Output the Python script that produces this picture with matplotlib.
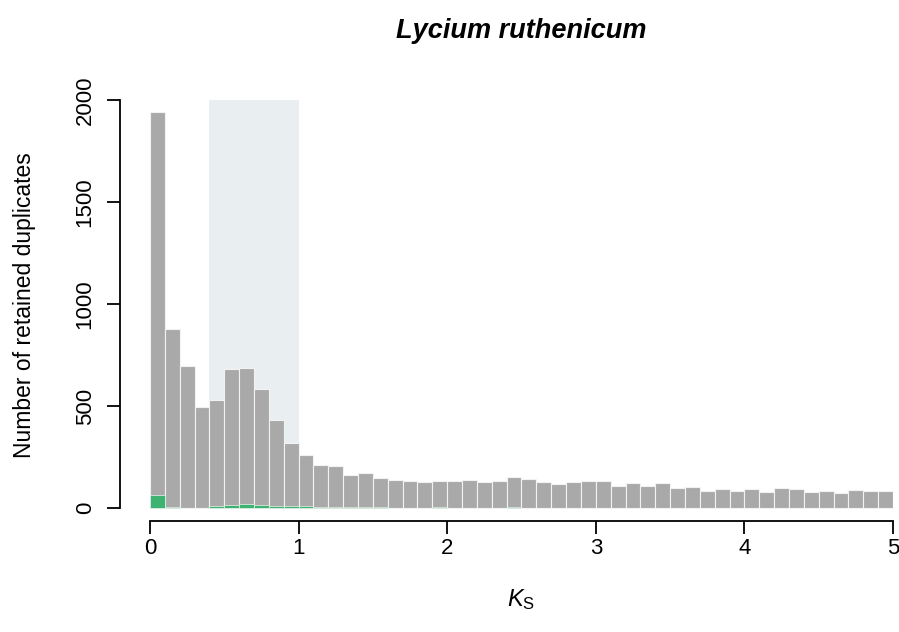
import numpy as np
import matplotlib
matplotlib.use("Agg")
import matplotlib.pyplot as plt

# Ks histogram: bin edges 0..5 step 0.1
bin_edges = np.round(np.arange(0, 5.01, 0.1), 2)

# retained duplicates per bin (all)
all_counts = [1943, 877, 694, 493, 528, 680, 686, 583, 430, 320,
              262, 209, 204, 160, 173, 145, 139, 132, 129, 134,
              134, 137, 126, 134, 150, 144, 126, 119, 129, 134,
              131, 108, 121, 108, 121, 96, 103, 83, 93, 83,
              91, 77, 100, 91, 77, 82, 75, 88, 81, 81]

# retained duplicates per bin (subset, green)
sub_counts = [62, 4, 0, 0, 12, 16, 18, 16, 10, 12,
              8, 5, 5, 4, 4, 4, 0, 0, 0, 4,
              0, 0, 0, 0, 4, 0, 0, 0, 0, 0,
              0, 0, 0, 0, 0, 0, 0, 0, 0, 0,
              0, 0, 0, 0, 0, 0, 0, 0, 0, 0]

# shaded Ks range
peak_range = [0.4, 1.0]

plt.rcParams["font.family"] = ["Liberation Sans", "DejaVu Sans"]
plt.rcParams["mathtext.fontset"] = "custom"
plt.rcParams["mathtext.rm"] = "Liberation Sans"
plt.rcParams["mathtext.it"] = "Liberation Sans:italic"

fig = plt.figure(figsize=(8.99, 6.32), dpi=100)
ax = fig.add_axes([120 / 899, 1 - 521 / 632, (893 - 120) / 899, (521 - 100) / 632])

lefts = bin_edges[:-1]
width = 0.1

ax.fill_between(peak_range, 0, 2000, color="#E9EEF1", linewidth=0, zorder=0)

ax.bar(lefts, all_counts, width=width, align="edge",
       color="#A9A9A9", edgecolor="#F2F2F2", linewidth=0.8, zorder=1)
ax.bar(lefts, sub_counts, width=width, align="edge",
       color="#3CB371", edgecolor="#F2F2F2", linewidth=0.5, zorder=2)

ax.set_xlim(-30 / 148.6, 5)
ax.set_ylim(-13 / 0.204, 2000)

for side in ["top", "right"]:
    ax.spines[side].set_visible(False)
ax.spines["left"].set_bounds(0, 2000)
ax.spines["bottom"].set_bounds(0, 5)
ax.spines["left"].set_linewidth(1.3)
ax.spines["bottom"].set_linewidth(1.3)

ax.set_xticks([0, 1, 2, 3, 4, 5])
ax.set_yticks([0, 500, 1000, 1500, 2000])
ax.tick_params(axis="both", direction="out", length=9.5, width=1.3, labelsize=16)
ax.tick_params(axis="x", pad=3)
ax.tick_params(axis="y", pad=8)
for lab in ax.get_yticklabels():
    lab.set_rotation(90)
    lab.set_va("center")

fig.text(25 / 899, 1 - 305 / 632, "Number of retained duplicates", fontsize=16.5,
         rotation=90, ha="center", va="center")
fig.text(521 / 899, 1 - 600 / 632, r"$K_\mathrm{S}$", fontsize=17,
         ha="center", va="center")
fig.text(521 / 899, 1 - 31 / 632, "Lycium ruthenicum", fontsize=19.5,
         fontweight="bold", fontstyle="italic", ha="center", va="center")

plt.savefig("out.png", dpi=100)
